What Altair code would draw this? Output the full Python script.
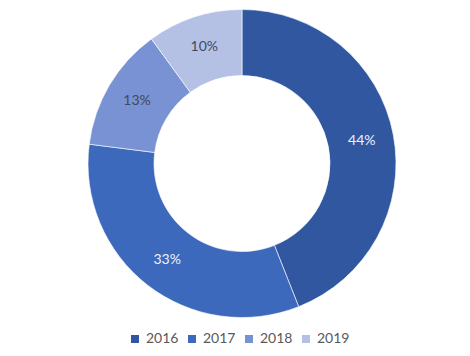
import altair as alt
import pandas as pd

years = ["2016", "2017", "2018", "2019"]
values = [44, 33, 13, 10]
labels = ["44%", "33%", "13%", "10%"]
colors = ["#3157a0", "#3d69bd", "#7892d3", "#b4c1e5"]

df = pd.DataFrame({"year": years, "value": values, "label": labels, "order": list(range(len(years)))})

base = alt.Chart(df).encode(
    theta=alt.Theta("value:Q", stack=True),
    order=alt.Order("order:Q"),
)

arc = base.mark_arc(outerRadius=154, innerRadius=88, stroke="white", strokeWidth=0.6).encode(
    x=alt.value(234),
    y=alt.value(155.5),
    color=alt.Color(
        "year:N",
        scale=alt.Scale(domain=years, range=colors),
        legend=alt.Legend(
            title=None,
            orient="none",
            legendX=120,
            legendY=324,
            direction="horizontal",
            symbolType="square",
            symbolSize=64,
            symbolStrokeWidth=0,
            labelFontSize=14,
            labelColor="#595959",
            labelFont="Lato",
            labelOffset=4,
            columnPadding=6,
            padding=0,
        ),
    ),
)

text = base.mark_text(radius=122, fontSize=14, font="Lato").encode(
    x=alt.value(234),
    y=alt.value(155.5),
    text="label:N",
    color=alt.condition(
        (alt.datum.year == "2016") | (alt.datum.year == "2017"),
        alt.value("#eef1f8"),
        alt.value("#404a5c"),
    ),
)

chart = (arc + text).properties(
    width=454, height=340, padding=0, autosize=alt.AutoSizeParams(type="none")
).configure_view(stroke=None)

chart.save("out.html", embed_options={"renderer": "svg", "actions": False})
